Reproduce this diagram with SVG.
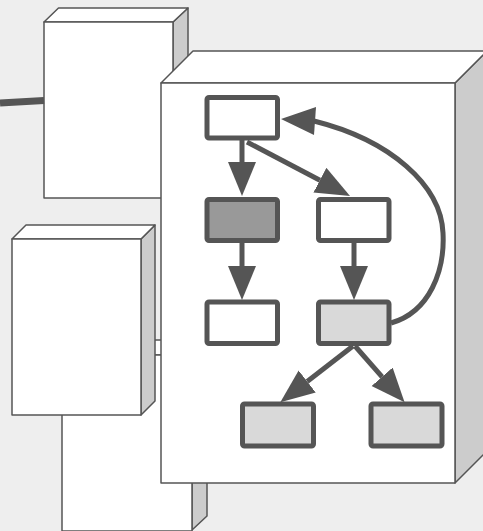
<svg xmlns="http://www.w3.org/2000/svg" width="483" height="531" viewBox="0 0 483 531">
<style>
.front{fill:#ffffff;stroke:#555555;stroke-width:1.5;stroke-linejoin:round}
.top{fill:#ffffff;stroke:#555555;stroke-width:1.5;stroke-linejoin:round}
.side{fill:#cccccc;stroke:#555555;stroke-width:1.5;stroke-linejoin:round}
.node{stroke:#555555;stroke-width:5}
.edge{fill:none;stroke:#555555;stroke-width:5}
.head{fill:#555555;stroke:none}
</style>
<defs>
<marker id="arr" markerUnits="userSpaceOnUse" markerWidth="36" markerHeight="30" refX="0" refY="14" orient="auto" viewBox="0 0 36 30">
<path d="M0,0 L34,14 L0,28 z" fill="#555555"/>
</marker>
</defs>
<rect width="483" height="531" fill="#eeeeee"/>
<g id="boxA">
<polygon class="side" points="173,22 188,8 188,184 173,198"/>
<polygon class="top" points="44,22 58.5,8 188,8 173,22"/>
<rect class="front" x="44" y="22" width="129" height="176"/>
</g>
<g id="boxB">
<polygon class="side" points="192,355 207,340 207,516 192,530"/>
<polygon class="top" points="62,355 77,340 207,340 192,355"/>
<rect class="front" x="62" y="355" width="130" height="176"/>
</g>
<g id="boxC">
<polygon class="side" points="141,239 155,225 155,401 141,415"/>
<polygon class="top" points="12,239 26,225 155,225 141,239"/>
<rect class="front" x="12" y="239" width="129" height="176"/>
</g>
<g id="boxD">
<polygon class="side" points="455,83 487,51 487,451 455,483"/>
<polygon class="top" points="161,83 193,51 487,51 455,83"/>
<rect class="front" x="161" y="83" width="294" height="400"/>
</g>
<g id="n1"><rect class="node" x="207" y="97.5" width="70.5" height="40.5" rx="2" fill="#ffffff"/></g>
<g id="n2"><rect class="node" x="207" y="199.5" width="70.5" height="41" rx="2" fill="#999999"/></g>
<g id="n3"><rect class="node" x="318.5" y="199.5" width="70.5" height="41" rx="2" fill="#ffffff"/></g>
<g id="n4"><rect class="node" x="207" y="302" width="70.5" height="41.5" rx="2" fill="#ffffff"/></g>
<g id="n5"><rect class="node" x="318.5" y="302" width="70.5" height="41.5" rx="2" fill="#d9d9d9"/></g>
<g id="n6"><rect class="node" x="242.5" y="404" width="71" height="42" rx="2" fill="#d9d9d9"/></g>
<g id="n7"><rect class="node" x="371" y="404" width="71" height="42" rx="2" fill="#d9d9d9"/></g>
<g id="connectors">
<line x1="0" y1="103" x2="44" y2="100.5" stroke="#555555" stroke-width="7"/>
<path class="edge" d="M242,140 L242,162" marker-end="url(#arr)"/>
<path class="edge" d="M247,142 L319.9,180.2" marker-end="url(#arr)"/>
<path class="edge" d="M242,243 L242,266" marker-end="url(#arr)"/>
<path class="edge" d="M354,243 L354,266" marker-end="url(#arr)"/>
<path class="edge" d="M353,346 L307.2,381.5" marker-end="url(#arr)"/>
<path class="edge" d="M355,346 L382.1,376.8" marker-end="url(#arr)"/>
<path class="edge" d="M391,323 C430,312 445,270 443,233 C441,185 390,140 314,121"/>
<polygon class="head" points="281,119 316,107 314,135"/>
</g>
</svg>
